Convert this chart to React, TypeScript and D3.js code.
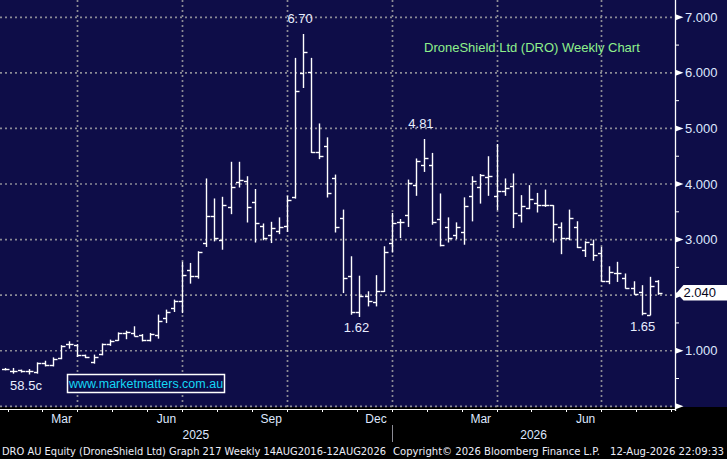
import * as d3 from "d3";

// weekly OHLC, DRO AU, oldest first
const opens = [
  0.68, 0.64, 0.65, 0.63, 0.61, 0.78, 0.74, 0.87, 1.12, 1.11, 0.92, 0.8, 0.94, 1.12, 1.2, 1.32,
  1.32, 1.29, 1.2, 1.28, 1.59, 1.77, 1.9, 2.46, 2.35, 2.93, 3.43, 3.0, 3.58, 4.03, 4.05, 3.67,
  3.24, 3.09, 3.15, 3.25, 3.76, 6.0, 6.01, 4.58, 4.69, 4.1, 3.38, 2.34, 1.7, 1.99, 1.87, 2.07,
  2.93, 3.31, 3.45, 3.99, 4.34, 4.35, 3.37, 3.23, 3.09, 3.14, 3.79, 3.94, 4.13, 3.79, 3.88, 3.97,
  3.45, 3.57, 3.65, 3.62, 3.62, 3.22, 3.02, 3.23, 2.82, 2.92, 2.76, 2.25, 2.4, 2.31, 2.13, 2.05,
  1.65, 2.25,
];
const highs = [
  0.69, 0.69, 0.66, 0.67, 0.79, 0.82, 0.88, 1.1, 1.17, 1.12, 0.93, 0.93, 1.13, 1.2, 1.33, 1.36,
  1.44, 1.3, 1.32, 1.65, 1.74, 1.92, 2.6, 2.58, 2.79, 4.1, 3.74, 3.77, 4.4, 4.4, 4.14, 3.91,
  3.29, 3.32, 3.4, 3.79, 6.27, 6.7, 6.27, 5.09, 4.84, 4.17, 3.54, 2.7, 2.35, 2.07, 2.36, 2.88,
  3.48, 3.37, 4.08, 4.46, 4.81, 4.56, 3.83, 3.4, 3.31, 3.76, 4.14, 4.18, 4.5, 4.72, 4.1, 4.19,
  3.8, 3.98, 3.84, 3.9, 3.62, 3.31, 3.54, 3.33, 2.97, 3.0, 2.87, 2.52, 2.6, 2.39, 2.25, 2.18,
  2.33, 2.27,
];
const lows = [
  0.66, 0.6, 0.62, 0.585, 0.6, 0.73, 0.73, 0.86, 1.05, 0.9, 0.88, 0.78, 0.93, 1.1, 1.19, 1.22,
  1.27, 1.18, 1.18, 1.23, 1.51, 1.71, 1.69, 2.22, 2.31, 2.88, 2.98, 2.83, 3.47, 3.95, 3.32, 2.96,
  3.0, 2.95, 3.11, 3.15, 3.75, 5.74, 4.57, 4.46, 3.77, 3.14, 2.05, 1.66, 1.62, 1.81, 1.81, 2.07,
  2.78, 3.04, 3.24, 3.8, 4.23, 3.28, 2.89, 2.96, 3.02, 2.92, 3.34, 3.66, 3.8, 3.54, 3.8, 3.22,
  3.32, 3.56, 3.5, 3.6, 2.96, 2.75, 3.0, 2.86, 2.7, 2.63, 2.26, 2.21, 2.25, 2.13, 2.02, 1.65,
  1.65, 2.02,
];
const closes = [
  0.67, 0.64, 0.63, 0.63, 0.78, 0.74, 0.86, 1.09, 1.12, 0.92, 0.88, 0.88, 1.12, 1.18, 1.32, 1.33,
  1.27, 1.2, 1.31, 1.53, 1.69, 1.9, 2.37, 2.34, 2.77, 3.43, 3.02, 3.63, 3.94, 4.08, 3.58, 3.29,
  3.02, 3.2, 3.22, 3.72, 5.68, 6.37, 4.58, 4.51, 3.83, 3.22, 2.31, 1.69, 1.98, 1.9, 2.07, 2.77,
  3.29, 3.32, 4.01, 4.41, 4.46, 3.31, 2.9, 3.02, 3.22, 3.61, 4.06, 4.17, 4.15, 3.88, 3.92, 3.47,
  3.61, 3.73, 3.63, 3.62, 3.28, 3.02, 3.38, 2.86, 2.96, 2.73, 2.26, 2.42, 2.4, 2.13, 2.02, 1.68,
  2.16, 2.04,
];

const quarterBars = [9, 22, 35, 48, 61, 74]; // bar index where each quarter starts
const monthLabels = ["Mar", "Jun", "Sep", "Dec", "Mar", "Jun"];
const yearLabels = ["2025", "2026"];
const yearStartBar = 48;
const priceTicks = [0, 1, 2, 3, 4, 5, 6, 7];
const lastPrice = 2.04;

const callouts = [
  { bar: 37, text: "6.70", at: "high" },
  { bar: 52, text: "4.81", at: "high" },
  { bar: 44, text: "1.62", at: "low" },
  { bar: 79.5, text: "1.65", at: "low" },
  { bar: 3, text: "58.5c", at: "low" },
];

const W = 727;
const H = 459;
const plotRight = 675.5;
const plotBottom = 407;
const navy = "#0e0d48";
const labelColor = "#dfe8ff";
const font = "'Liberation Sans', Arial, sans-serif";

export default function App() {
  const x = d3.scaleLinear().domain([0, 81]).range([4.84, 657.7]);
  const y = d3.scaleLinear().domain([0, 7]).range([406.3, 17.3]);

  const monthTicks = d3
    .range(-1, 19)
    .map((k) => quarterBars[0] + (k - 1) * (13 / 3))
    .filter((b) => x(b) > 0 && x(b) < plotRight);
  const minorTicks = d3.range(0.5, 7.5, 1);

  const px = (v: number) => Math.round(v) + 0.5;
  const tagY = y(lastPrice);

  return (
    <svg
      width={W}
      height={H}
      style={{ position: "absolute", left: 0, top: 0, display: "block" }}
      fontFamily={font}
    >
      <rect width={W} height={H} fill="#000" />
      <rect width={W} height={plotBottom} fill={navy} />

      {/* grid */}
      <g stroke="#8b8b95" strokeWidth={1.7} strokeDasharray="2 3">
        {priceTicks.map((t) => (
          <line key={t} x1={0} x2={plotRight} y1={y(t)} y2={y(t)} />
        ))}
        {quarterBars.map((b) => (
          <line key={b} x1={px(x(b))} x2={px(x(b))} y1={0} y2={plotBottom} />
        ))}
      </g>

      {/* OHLC bars */}
      <g stroke="#fff" strokeWidth={1.4}>
        {opens.map((o, i) => {
          const cx = px(x(i));
          return (
            <g key={i}>
              <line x1={cx} x2={cx} y1={y(highs[i])} y2={y(lows[i]) + 0.7} />
              <line x1={cx - 3.5} x2={cx} y1={px(y(o))} y2={px(y(o))} />
              <line x1={cx} x2={cx + 4} y1={px(y(closes[i]))} y2={px(y(closes[i]))} />
            </g>
          );
        })}
      </g>

      {/* callouts */}
      <g fill="#e8edff" fontSize={13} textAnchor="middle">
        {callouts.map((c) => {
          const i = Math.floor(c.bar);
          const v = c.at === "high" ? highs[i] : Math.min(lows[i], lows[Math.ceil(c.bar)]);
          const ty = c.at === "high" ? y(v) - 11 : y(v) + 16;
          return (
            <text key={c.text} x={x(c.bar) - 3} y={ty}>
              {c.text}
            </text>
          );
        })}
      </g>

      <text x={424} y={52} fontSize={13} fill="#8ef08c">
        DroneShield Ltd (DRO) Weekly Chart
      </text>

      <rect x={67.5} y={374.5} width={157} height={18} fill={navy} stroke="#fff" strokeWidth={1.5} />
      <text x={146} y={388} fontSize={12.5} fill="#14d8f5" textAnchor="middle">
        www.marketmatters.com.au
      </text>

      {/* right axis */}
      <line x1={plotRight} x2={plotRight} y1={0} y2={411} stroke="#fff" strokeWidth={1.3} />
      {minorTicks.map((t) => (
        <line key={t} x1={plotRight} x2={plotRight + 3.5} y1={y(t)} y2={y(t)} stroke="#fff" />
      ))}
      {priceTicks.map((t) => (
        <g key={t}>
          <polygon
            points={`${plotRight},${y(t) - 3} ${plotRight + 8},${y(t)} ${plotRight},${y(t) + 3}`}
            fill="#fff"
          />
          {t > 0 && Math.abs(y(t) - tagY) > 14 && (
            <text x={685} y={y(t) + 4.5} fontSize={13} fill={labelColor}>
              {d3.format(".3f")(t)}
            </text>
          )}
        </g>
      ))}
      <polygon
        points={`${plotRight + 1},${tagY} ${plotRight + 8},${tagY - 8} ${W},${tagY - 8} ${W},${tagY + 7.5} ${plotRight + 8},${tagY + 7.5}`}
        fill="#fff"
      />
      <text x={683.5} y={tagY + 4.5} fontSize={13} fill="#05051a">
        {d3.format(".3f")(lastPrice)}
      </text>

      {/* bottom axis */}
      <line x1={0} x2={plotRight} y1={409.5} y2={409.5} stroke="#fff" strokeWidth={1} />
      {monthTicks.map((b) => (
        <line key={b} x1={px(x(b))} x2={px(x(b))} y1={409.5} y2={412} stroke="#fff" />
      ))}
      <g fontSize={12} fill={labelColor} textAnchor="middle">
        {monthLabels.map((m, k) => (
          <text key={k} x={x(quarterBars[k] - 1.95)} y={423}>
            {m}
          </text>
        ))}
        <text x={x(yearStartBar) / 2} y={439}>
          {yearLabels[0]}
        </text>
        <text x={(x(yearStartBar) + plotRight) / 2} y={439}>
          {yearLabels[1]}
        </text>
      </g>
      <line
        x1={px(x(yearStartBar))}
        x2={px(x(yearStartBar))}
        y1={425}
        y2={442}
        stroke="#8b8b95"
      />

      <g fontSize={10.5} fill="#eceef8" fontFamily="'DejaVu Sans', Verdana, sans-serif">
        <text x={2} y={455} textLength={384} lengthAdjust="spacingAndGlyphs">
          DRO AU Equity (DroneShield Ltd) Graph 217 Weekly 14AUG2016-12AUG2026
        </text>
        <text x={393} y={455} textLength={207} lengthAdjust="spacingAndGlyphs">
          Copyright© 2026 Bloomberg Finance L.P.
        </text>
        <text x={610} y={455} textLength={114} lengthAdjust="spacingAndGlyphs">
          12-Aug-2026 22:09:33
        </text>
      </g>
    </svg>
  );
}
